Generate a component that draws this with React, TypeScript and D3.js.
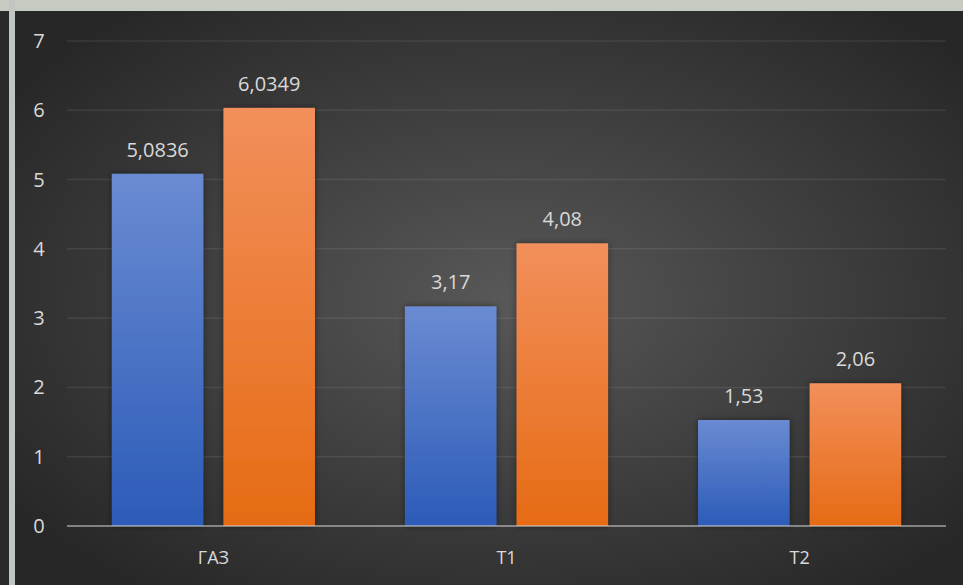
import { useRef, useEffect } from 'react';
import * as d3 from 'd3';

const categories = ['ГАЗ', 'Т1', 'Т2'];
const series1 = [5.0836, 3.17, 1.53];
const series2 = [6.0349, 4.08, 2.06];
const yTicks = [0, 1, 2, 3, 4, 5, 6, 7];

export default function App() {
  const svgRef = useRef<SVGSVGElement>(null);

  useEffect(() => {
    if (!svgRef.current) return;
    const svg = d3.select(svgRef.current);
    svg.selectAll('*').remove();

    const width = 963;
    const height = 585;
    const left = 67;
    const right = 946;
    const top = 41;
    const bottom = 526;
    const font = '"Open Sans", "Noto Sans", sans-serif';

    const defs = svg.append('defs');
    const bg = defs.append('radialGradient').attr('id', 'bg')
      .attr('cx', '52%').attr('cy', '50%').attr('r', '64%');
    bg.append('stop').attr('offset', '0%').attr('stop-color', '#585858');
    bg.append('stop').attr('offset', '100%').attr('stop-color', '#272727');

    const blue = defs.append('linearGradient').attr('id', 'blue').attr('x1', 0).attr('y1', 0).attr('x2', 0).attr('y2', 1);
    blue.append('stop').attr('offset', '0%').attr('stop-color', '#6a8bd2');
    blue.append('stop').attr('offset', '100%').attr('stop-color', '#2c5bb8');
    const orange = defs.append('linearGradient').attr('id', 'orange').attr('x1', 0).attr('y1', 0).attr('x2', 0).attr('y2', 1);
    orange.append('stop').attr('offset', '0%').attr('stop-color', '#f28f5b');
    orange.append('stop').attr('offset', '100%').attr('stop-color', '#e66b14');

    const shadow = defs.append('filter').attr('id', 'shadow')
      .attr('x', '-20%').attr('y', '-10%').attr('width', '140%').attr('height', '120%');
    shadow.append('feDropShadow').attr('dx', 0).attr('dy', 0).attr('stdDeviation', 3)
      .attr('flood-color', '#000').attr('flood-opacity', 0.45);

    // frame bits around the chart
    svg.append('rect').attr('x', 0).attr('y', 0).attr('width', width).attr('height', height).attr('fill', '#2a2a2a');
    svg.append('rect').attr('x', 0).attr('y', 0).attr('width', width).attr('height', 11).attr('fill', '#c6cbc2');
    svg.append('rect').attr('x', 9).attr('y', 0).attr('width', 6).attr('height', height).attr('fill', '#c2c6c2');
    svg.append('rect').attr('x', 15).attr('y', 11).attr('width', width - 15).attr('height', height - 11).attr('fill', 'url(#bg)');

    const y = d3.scaleLinear().domain([0, 7]).range([bottom, top]);
    const x0 = d3.scaleBand().domain(categories).range([left, right]).paddingInner(0.307).paddingOuter(0.153);
    const x1 = d3.scaleBand().domain(['a', 'b']).range([0, x0.bandwidth()]).paddingInner(0.18);

    // gridlines
    svg.append('g').selectAll('line').data(yTicks.filter((t) => t > 0)).join('line')
      .attr('x1', left).attr('x2', right)
      .attr('y1', (d) => y(d)).attr('y2', (d) => y(d))
      .attr('stroke', 'rgba(217,217,217,0.1)').attr('stroke-width', 1.5);

    // tick labels
    svg.append('g').selectAll('text').data(yTicks).join('text')
      .attr('x', 39).attr('y', (d) => y(d) + 7)
      .attr('text-anchor', 'middle')
      .attr('fill', '#d9d9d9').style('font-family', font).style('font-size', '20px')
      .text((d) => String(d));

    const fmt = (v: number) => String(v).replace('.', ',');

    categories.forEach((c, i) => {
      const pairs: [string, number, string][] = [['a', series1[i], 'url(#blue)'], ['b', series2[i], 'url(#orange)']];
      pairs.forEach(([k, v, fill]) => {
        const bx = x0(c)! + x1(k)!;
        svg.append('rect')
          .attr('x', bx).attr('y', y(v))
          .attr('width', x1.bandwidth()).attr('height', y(0) - y(v))
          .attr('fill', fill).attr('filter', 'url(#shadow)');
        svg.append('text')
          .attr('x', bx + x1.bandwidth() / 2).attr('y', y(v) - 17)
          .attr('text-anchor', 'middle')
          .attr('fill', '#d9d9d9').style('font-family', font).style('font-size', '20px')
          .text(fmt(v));
      });
      svg.append('text')
        .attr('x', x0(c)! + x0.bandwidth() / 2).attr('y', 564)
        .attr('text-anchor', 'middle')
        .attr('fill', '#d9d9d9').style('font-family', font).style('font-size', '18px')
        .text(c);
    });

    // baseline
    svg.append('line')
      .attr('x1', left).attr('x2', right).attr('y1', y(0)).attr('y2', y(0))
      .attr('stroke', 'rgba(217,217,217,0.5)').attr('stroke-width', 2);
  }, []);

  return (
    <svg
      ref={svgRef}
      width={963}
      height={585}
      style={{ position: 'absolute', left: 0, top: 0, display: 'block' }}
    />
  );
}
